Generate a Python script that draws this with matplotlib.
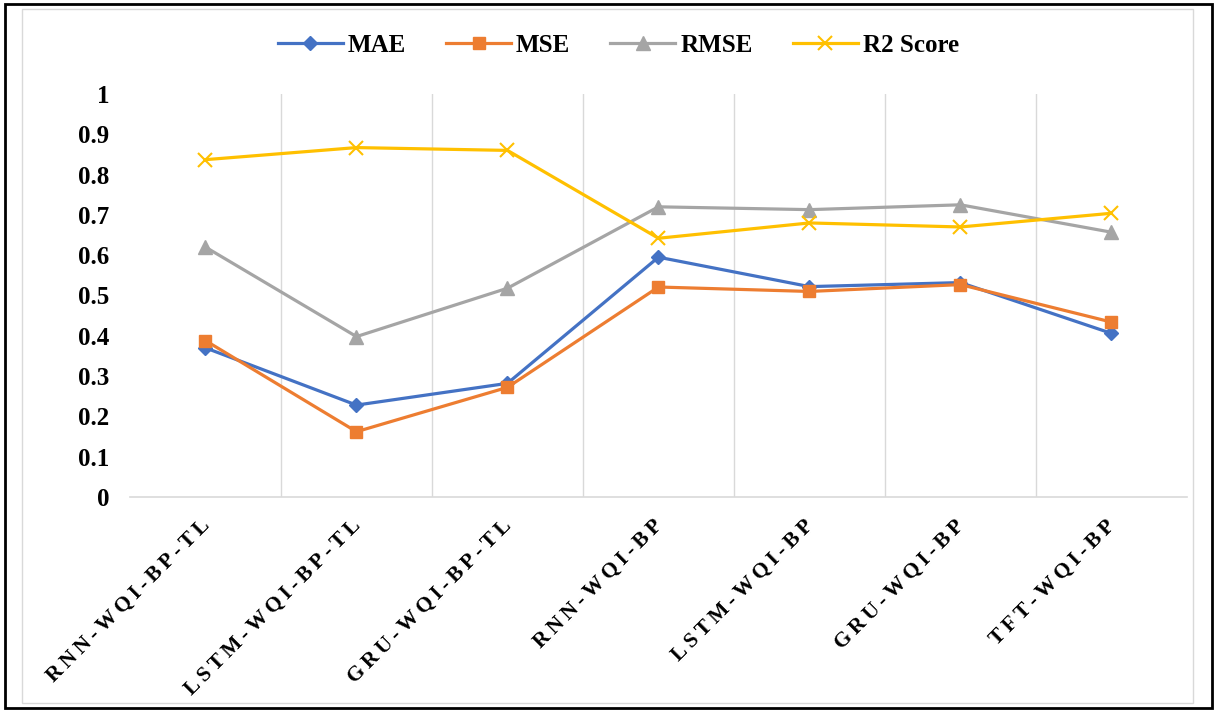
import matplotlib.pyplot as plt
from matplotlib.patches import Rectangle
from matplotlib.transforms import ScaledTranslation

models = ['RNN-WQI-BP-TL', 'LSTM-WQI-BP-TL', 'GRU-WQI-BP-TL', 'RNN-WQI-BP',
          'LSTM-WQI-BP', 'GRU-WQI-BP', 'TFT-WQI-BP']
mae = [0.37, 0.228, 0.282, 0.595, 0.522, 0.532, 0.406]
mse = [0.388, 0.162, 0.272, 0.521, 0.510, 0.527, 0.434]
rmse = [0.620, 0.398, 0.518, 0.720, 0.713, 0.725, 0.657]
r2 = [0.837, 0.867, 0.860, 0.642, 0.680, 0.670, 0.704]

plt.rcParams['font.family'] = ['Liberation Serif', 'DejaVu Serif']

fig = plt.figure(figsize=(12.17, 7.12), dpi=100)
ax = fig.add_axes([0.1068, 0.302, 0.8685, 0.566])

x = list(range(len(models)))
series = [
    (mae, 'MAE', '#4472C4', 'D', 7),
    (mse, 'MSE', '#ED7D31', 's', 9),
    (rmse, 'RMSE', '#A5A5A5', '^', 10),
    (r2, 'R2 Score', '#FFC000', 'x', 10),
]
for vals, name, col, mk, ms in series:
    ax.plot(x, vals, color=col, linewidth=2.3, marker=mk, markersize=ms,
            markeredgewidth=1.5 if mk == 'x' else 1, markeredgecolor=col,
            label=name)

ax.set_xlim(-0.5, len(models) - 0.5)
ax.set_ylim(0, 1)
ax.set_yticks([i / 10 for i in range(11)])
ax.set_yticklabels(['0', '0.1', '0.2', '0.3', '0.4', '0.5', '0.6', '0.7', '0.8', '0.9', '1'],
                   fontsize=18, fontweight='bold')

# vertical separators between categories
for b in range(1, len(models)):
    ax.axvline(b - 0.5, color='#D9D9D9', linewidth=1, zorder=0)

for s in ['left', 'top', 'right']:
    ax.spines[s].set_visible(False)
ax.spines['bottom'].set_color('#D9D9D9')
ax.spines['bottom'].set_linewidth(1.2)
ax.tick_params(axis='both', length=0)
ax.tick_params(axis='y', pad=15)

# category labels are set with a little letter spacing
spaced = ['\u2009'.join(m) for m in models]
ax.set_xticks(x)
ax.set_xticklabels(spaced, rotation=45, ha='right', rotation_mode='anchor',
                   fontsize=15.5, fontweight='bold')
offset = ScaledTranslation(-0.06, -0.14, fig.dpi_scale_trans)
for lbl in ax.get_xticklabels():
    lbl.set_transform(lbl.get_transform() + offset)

ax.legend(loc='center', bbox_to_anchor=(0.462, 1.12), ncol=4, frameon=False,
          prop={'size': 18, 'weight': 'bold'}, handlelength=2.6, columnspacing=1.6,
          handletextpad=0.2)

# chart frame
fig.patches.append(Rectangle((0.018, 0.012), 0.962, 0.975, transform=fig.transFigure,
                             fill=False, edgecolor='#D9D9D9', linewidth=1))
fig.patches.append(Rectangle((0.004, 0.006), 0.992, 0.988, transform=fig.transFigure,
                             fill=False, edgecolor='black', linewidth=2))

fig.savefig('out.png', dpi=100)
